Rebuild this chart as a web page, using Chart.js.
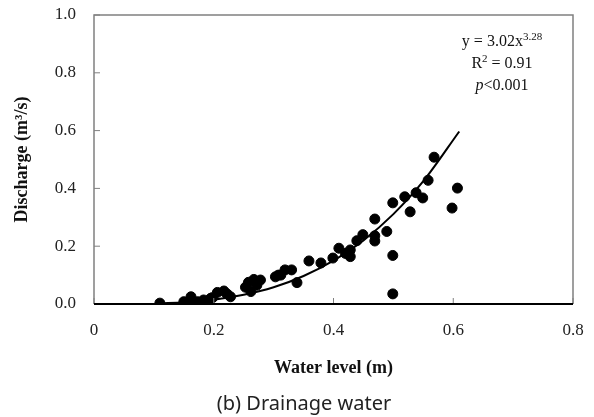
<!DOCTYPE html>
<html>
<head>
<meta charset="utf-8">
<script src="https://cdn.jsdelivr.net/npm/chart.js@4"></script>
<style>
  body { margin: 0; background: #fff; }
  #wrap { position: relative; width: 594px; height: 417px; }
  #eq {
    position: absolute; left: 442px; top: 30px; width: 120px;
    text-align: center; font-family: "Liberation Serif", serif;
    font-size: 16px; line-height: 22px; color: #111;
  }
  #eq sup { font-size: 11px; vertical-align: 6px; line-height: 0; }
  #caption {
    position: absolute; left: 0; width: 608px; top: 389px;
    text-align: center; font-family: "Noto Sans", sans-serif;
    font-size: 20px; color: #222;
  }
</style>
</head>
<body>
<div id="wrap">
  <canvas id="chart" width="594" height="417"></canvas>
  <div id="eq">y = 3.02x<sup>3.28</sup><br>R<sup>2</sup> = 0.91<br><i>p</i>&lt;0.001</div>
  <div id="caption">(b) Drainage water</div>
</div>
<script>
// observed points
const waterLevel = [0.11, 0.15, 0.155, 0.162, 0.165, 0.173, 0.183, 0.19, 0.195, 0.198,
  0.206, 0.217, 0.222, 0.228, 0.253, 0.258, 0.262, 0.267, 0.272, 0.278,
  0.303, 0.308, 0.312, 0.319, 0.33, 0.339, 0.359, 0.379, 0.399, 0.409,
  0.42, 0.428, 0.428, 0.439, 0.449, 0.469, 0.469, 0.469, 0.489, 0.499,
  0.499, 0.499, 0.519, 0.528, 0.538, 0.549, 0.558, 0.568, 0.598, 0.607];
const discharge = [0.003, 0.008, 0.004, 0.025, 0.005, 0.008, 0.014, 0.01, 0.02, 0.022,
  0.04, 0.045, 0.035, 0.025, 0.058, 0.075, 0.043, 0.085, 0.065, 0.083,
  0.094, 0.1, 0.1, 0.118, 0.118, 0.074, 0.149, 0.142, 0.159, 0.193,
  0.175, 0.187, 0.164, 0.219, 0.24, 0.236, 0.218, 0.294, 0.251, 0.35,
  0.168, 0.035, 0.371, 0.319, 0.385, 0.367, 0.428, 0.508, 0.332, 0.401];

// fitted curve y = 3.02x^3.28
const fitX = [0.11, 0.15, 0.2, 0.25, 0.3, 0.35, 0.4, 0.45, 0.5, 0.55, 0.61];
const fitY = [0.002, 0.006, 0.015, 0.032, 0.058, 0.097, 0.15, 0.22, 0.311, 0.425, 0.597];

const xTicks = [0, 0.2, 0.4, 0.6, 0.8];
const yTicks = [0, 0.2, 0.4, 0.6, 0.8, 1.0];

const points = waterLevel.map((x, i) => ({ x: x, y: discharge[i] }));
const curve = fitX.map((x, i) => ({ x: x, y: fitY[i] }));

// frame around plot area + inward tick marks
const framePlugin = {
  id: 'frame',
  afterDraw(chart) {
    const ctx = chart.ctx;
    const a = chart.chartArea;
    ctx.save();
    ctx.strokeStyle = '#808080';
    ctx.lineWidth = 1.5;
    ctx.beginPath();
    ctx.moveTo(a.left, a.bottom);
    ctx.lineTo(a.left, a.top);
    ctx.lineTo(a.right, a.top);
    ctx.lineTo(a.right, a.bottom);
    ctx.stroke();
    ctx.lineWidth = 1;
    ctx.beginPath();
    chart.scales.x.ticks.forEach(t => {
      const px = chart.scales.x.getPixelForValue(t.value);
      ctx.moveTo(px, a.bottom);
      ctx.lineTo(px, a.bottom - 6);
    });
    chart.scales.y.ticks.forEach(t => {
      const py = chart.scales.y.getPixelForValue(t.value);
      ctx.moveTo(a.left, py);
      ctx.lineTo(a.left + 6, py);
    });
    ctx.stroke();
    ctx.strokeStyle = '#000';
    ctx.lineWidth = 2;
    ctx.beginPath();
    ctx.moveTo(a.left, a.bottom);
    ctx.lineTo(a.right, a.bottom);
    ctx.stroke();
    ctx.restore();
  }
};

new Chart(document.getElementById('chart'), {
  type: 'scatter',
  data: {
    datasets: [
      {
        label: 'Observed',
        data: points,
        backgroundColor: '#000',
        borderColor: '#000',
        pointRadius: 5,
        pointHoverRadius: 5
      },
      {
        label: 'Fit',
        type: 'line',
        data: curve,
        borderColor: '#000',
        borderWidth: 2,
        pointRadius: 0,
        fill: false,
        cubicInterpolationMode: 'monotone'
      }
    ]
  },
  options: {
    responsive: false,
    animation: false,
    layout: { padding: { top: 15, right: 21, left: 0, bottom: 0 } },
    plugins: { legend: { display: false }, tooltip: { enabled: false } },
    scales: {
      x: {
        type: 'linear',
        min: 0, max: 0.8,
        afterBuildTicks: s => { s.ticks = xTicks.map(v => ({ value: v })); },
        afterFit: s => { s.height = 113; s.paddingLeft = 0; s.paddingRight = 0; },
        grid: { display: false, drawTicks: false },
        border: { display: false },
        ticks: {
          padding: 16,
          color: '#222',
          font: { family: 'Liberation Serif', size: 17 },
          callback: v => v === 0 ? '0' : v.toFixed(1)
        },
        title: {
          display: true,
          text: 'Water level (m)',
          color: '#111',
          font: { family: 'Liberation Serif', size: 18, weight: 'bold' },
          padding: { top: 0, bottom: 38 }
        }
      },
      y: {
        min: 0, max: 1.0,
        afterBuildTicks: s => { s.ticks = yTicks.map(v => ({ value: v })); },
        afterFit: s => { s.width = 94; s.paddingTop = 0; s.paddingBottom = 0; },
        grid: { display: false, drawTicks: false },
        border: { display: false },
        ticks: {
          padding: 18,
          color: '#222',
          font: { family: 'Liberation Serif', size: 17 },
          callback: v => v.toFixed(1)
        },
        title: {
          display: true,
          text: 'Discharge (m³/s)',
          color: '#111',
          font: { family: 'Liberation Serif', size: 18, weight: 'bold' },
          padding: { top: 12, bottom: 0 }
        }
      }
    }
  },
  plugins: [framePlugin]
});
</script>
</body>
</html>
